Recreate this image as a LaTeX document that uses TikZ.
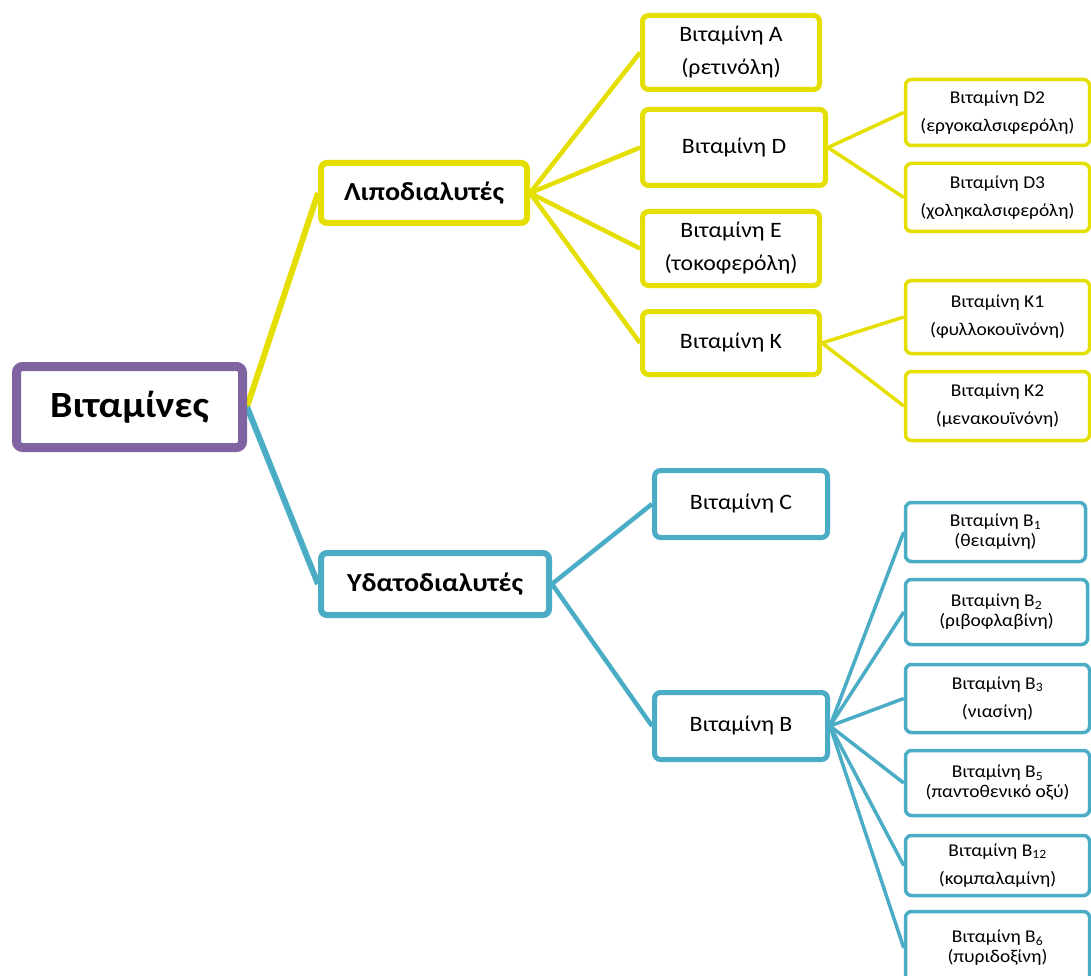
\documentclass[tikz,border=0pt]{standalone}
\usepackage{fontspec}
\setmainfont{Carlito}[FakeStretch=1.08]
\usetikzlibrary{backgrounds}
\definecolor{mypurple}{RGB}{128, 100, 162}
\definecolor{myyellow}{RGB}{228, 223, 0}
\definecolor{myblue}{RGB}{75, 172, 198}

\begin{document}
\begin{tikzpicture}[
    x = 1pt, y = -1pt,
    box/.style = {draw, rounded corners = 6pt, fill = white, align = center, inner sep = 0pt},
    b0/.style = {box, line width = 9pt, font = \fontsize{37}{42}\bfseries\selectfont},
    b1/.style = {box, line width = 6pt, font = \fontsize{26}{30}\bfseries\selectfont},
    b2/.style = {box, line width = 5pt, font = \fontsize{22}{33}\selectfont},
    b3/.style = {box, line width = 3.5pt, minimum width = 184pt, font = \fontsize{18}{28}\selectfont},
    tight/.style = {font = \fontsize{18}{20}\selectfont},
    c1/.style = {line width = 6pt},
    c2/.style = {line width = 4.5pt},
    c3/.style = {line width = 3.5pt}
]
\useasboundingbox (0,0) rectangle (1091,976);

% root
\node[b0, draw = mypurple, minimum width = 226pt, minimum height = 81pt] (vit) at (129.5, 407) {Βιταμίνες};

% fat soluble
\node[b1, draw = myyellow, minimum width = 206pt, minimum height = 60pt] (lipo) at (424, 193) {Λιποδιαλυτές};
\node[b2, draw = myyellow, minimum width = 177pt, minimum height = 74pt] (vA) at (731, 52.5) {Βιταμίνη A\\(ρετινόλη)};
\node[b2, draw = myyellow, minimum width = 183pt, minimum height = 76pt] (vD) at (734, 147.5) {Βιταμίνη D};
\node[b2, draw = myyellow, minimum width = 177pt, minimum height = 74pt] (vE) at (731, 248.5) {Βιταμίνη E\\(τοκοφερόλη)};
\node[b2, draw = myyellow, minimum width = 177pt, minimum height = 63pt] (vK) at (731, 343) {Βιταμίνη K};
\node[b3, draw = myyellow, minimum height = 66pt] (vD2) at (997.5, 112.5) {Βιταμίνη D2\\(εργοκαλσιφερόλη)};
\node[b3, draw = myyellow, minimum height = 68pt] (vD3) at (997.5, 197.5) {Βιταμίνη D3\\(χοληκαλσιφερόλη)};
\node[b3, draw = myyellow, minimum height = 73pt] (vK1) at (997.5, 317) {Βιταμίνη K1\\(φυλλοκουϊνόνη)};
\node[b3, draw = myyellow, minimum height = 69pt] (vK2) at (997.5, 406) {Βιταμίνη K2\\(μενακουϊνόνη)};

% water soluble
\node[b1, draw = myblue, minimum width = 228pt, minimum height = 62pt] (ydato) at (435, 584) {Υδατοδιαλυτές};
\node[b2, draw = myblue, minimum width = 173pt, minimum height = 67pt] (vC) at (741, 504) {Βιταμίνη C};
\node[b2, draw = myblue, minimum width = 173pt, minimum height = 67pt] (vB) at (741, 726) {Βιταμίνη B};
\node[b3, tight, draw = myblue, minimum width = 180pt, minimum height = 59pt] (vB1) at (995.5, 532) {Βιταμίνη B\textsubscript{1}\\(θειαμίνη)};
\node[b3, tight, draw = myblue, minimum width = 182pt, minimum height = 65pt] (vB2) at (996.5, 612) {Βιταμίνη B\textsubscript{2}\\(ριβοφλαβίνη)};
\node[b3, draw = myblue, minimum height = 68pt] (vB3) at (997.5, 698.5) {Βιταμίνη B\textsubscript{3}\\(νιασίνη)};
\node[b3, tight, draw = myblue, minimum height = 65pt] (vB5) at (997.5, 783) {Βιταμίνη B\textsubscript{5}\\(παντοθενικό οξύ)};
\node[b3, draw = myblue, minimum height = 60pt] (vB12) at (997.5, 865.5) {Βιταμίνη B\textsubscript{12}\\(κομπαλαμίνη)};
\node[b3, tight, draw = myblue, minimum height = 73pt] (vB6) at (997.5, 948) {Βιταμίνη B\textsubscript{6}\\(πυριδοξίνη)};

\begin{scope}[on background layer]
\draw[c1, myyellow] (vit.east) -- (lipo.west);
\draw[c1, myblue] (vit.east) -- (ydato.west);

\foreach \n in {vA, vD, vE, vK}
    \draw[c2, myyellow] (lipo.east) -- (\n.west);
\foreach \n in {vC, vB}
    \draw[c2, myblue] (ydato.east) -- (\n.west);

\draw[c3, myyellow] (vD.east) -- (vD2.west);
\draw[c3, myyellow] (vD.east) -- (vD3.west);
\draw[c3, myyellow] (vK.east) -- (vK1.west);
\draw[c3, myyellow] (vK.east) -- (vK2.west);
\foreach \n in {vB1, vB2, vB3, vB5, vB12, vB6}
    \draw[c3, myblue] (vB.east) -- (\n.west);
\end{scope}

\end{tikzpicture}
\end{document}
